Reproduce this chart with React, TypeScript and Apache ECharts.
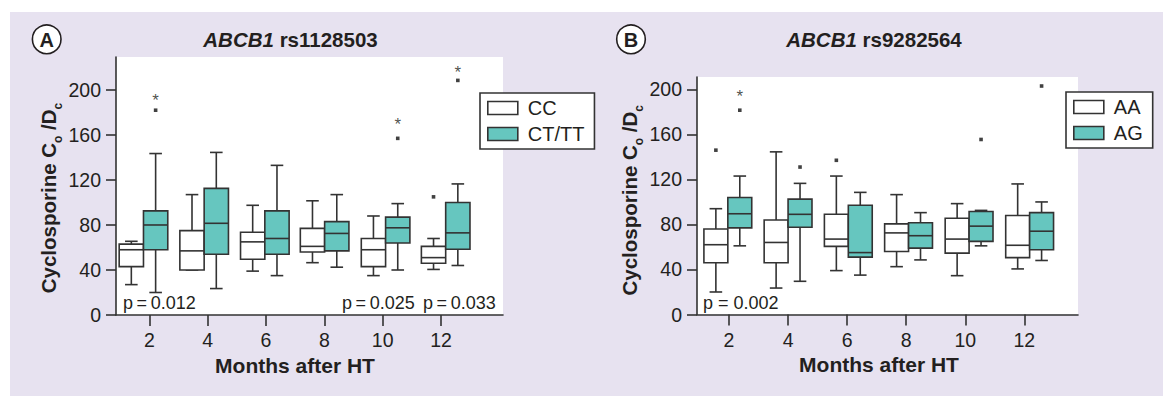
import React, { useEffect, useRef } from 'react';
import * as echarts from 'echarts';

// ---------- data ----------
const months = [2, 4, 6, 8, 10, 12];
const yTicks = [0, 40, 80, 120, 160, 200];

// Panel A: ABCB1 rs1128503  — boxes as [min, Q1, median, Q3, max]
const groupXA = [1.8, 3.88, 5.96, 8.01, 10.1, 12.16];
const ccA = [
  [27, 43, 58, 63, 65.5],
  [40, 40, 57, 75, 107],
  [39, 49.5, 65, 73.5, 97.5],
  [46.5, 56, 61, 77, 101.5],
  [35, 43, 58, 68, 88],
  [40.5, 46, 51, 61, 68],
];
const cttA = [
  [20, 58, 80, 92.5, 143.5],
  [23.5, 54, 81.5, 112.5, 144.5],
  [35, 54, 68, 92.5, 133],
  [42.5, 57, 72.5, 83, 107],
  [40, 64, 77.5, 87, 99],
  [44, 58.5, 73, 100, 116.5],
];
// outliers: [group index, value]
const ccAOut = [[5, 105]];
const cttAOut = [[0, 182], [4, 157], [5, 208.5]];
const cttAStars = [[0, 194], [4, 172.5], [5, 219]];
const pA = ['p\u2009=\u20090.012', 'p\u2009=\u20090.025', 'p\u2009=\u20090.033'];

// Panel B: ABCB1 rs9282564
const groupXB = [1.96, 4.0, 6.04, 8.08, 10.13, 12.18];
const aaB = [
  [20, 46, 62, 76, 94],
  [23.5, 46, 64, 84, 144.5],
  [39, 60.5, 67, 89, 123],
  [42.5, 56, 72.5, 80.5, 106.5],
  [34.5, 54.5, 67, 85.5, 98.5],
  [40.5, 50.5, 61.5, 88, 116],
];
const agB = [
  [61, 77, 89.5, 104, 123],
  [29.5, 77.5, 89, 102.5, 116.5],
  [35, 51, 55, 97, 108.5],
  [48.5, 59, 70, 81.5, 90.5],
  [61, 65, 78.5, 91.5, 92.5],
  [48, 57.5, 74, 90.5, 100],
];
const aaBOut = [[0, 146], [2, 137]];
const agBOut = [[0, 181.5], [1, 131], [4, 155.5], [5, 203]];
const agBStars = [[0, 197]];
const pB = ['p = 0.002'];

// ---------- styles ----------
const FONT = '"Liberation Sans", Arial, Helvetica, sans-serif';
const INK = '#231F20';
const LINE = '#333333';
const TEAL = '#66C6BF';

function boxSeries(name: string, data: number[][], groupX: number[], side: number, boxW: number, fill: string, gi: number) {
  return {
    type: 'custom',
    name,
    xAxisIndex: gi,
    yAxisIndex: gi,
    encode: { x: 0, y: [1, 2, 3, 4, 5] },
    itemStyle: { color: fill, borderColor: LINE },
    data: data.map((d, i) => [groupX[i] + side * boxW / 2, ...d]),
    renderItem: (params: any, api: any) => {
      const x = api.value(0);
      const lo = api.value(1), q1 = api.value(2), med = api.value(3), q3 = api.value(4), hi = api.value(5);
      const tl = api.coord([x - boxW / 2, q3]);
      const br = api.coord([x + boxW / 2, q1]);
      const cx = api.coord([x, lo])[0];
      const yLo = api.coord([x, lo])[1];
      const yHi = api.coord([x, hi])[1];
      const yMed = api.coord([x, med])[1];
      const cap = 6.3;
      const ls = { stroke: LINE, lineWidth: 1.6 };
      return {
        type: 'group',
        children: [
          { type: 'line', shape: { x1: cx, y1: yHi, x2: cx, y2: tl[1] }, style: ls },
          { type: 'line', shape: { x1: cx, y1: br[1], x2: cx, y2: yLo }, style: ls },
          { type: 'line', shape: { x1: cx - cap, y1: yHi, x2: cx + cap, y2: yHi }, style: ls },
          { type: 'line', shape: { x1: cx - cap, y1: yLo, x2: cx + cap, y2: yLo }, style: ls },
          { type: 'rect', shape: { x: tl[0], y: tl[1], width: br[0] - tl[0], height: br[1] - tl[1] }, style: { fill, stroke: LINE, lineWidth: 1.6 } },
          { type: 'line', shape: { x1: tl[0], y1: yMed, x2: br[0], y2: yMed }, style: ls },
        ],
      };
    },
  };
}

function outSeries(name: string, pts: number[][], groupX: number[], side: number, boxW: number, gi: number) {
  return {
    type: 'scatter',
    name,
    xAxisIndex: gi,
    yAxisIndex: gi,
    symbol: 'rect',
    symbolSize: 3.6,
    itemStyle: { color: '#111' },
    data: pts.map(([g, v]) => [groupX[g] + side * boxW / 2, v]),
  };
}

function starSeries(name: string, pts: number[][], groupX: number[], side: number, boxW: number, gi: number) {
  return {
    type: 'scatter',
    name,
    xAxisIndex: gi,
    yAxisIndex: gi,
    symbolSize: 0,
    label: { show: true, position: 'inside', formatter: '*', fontSize: 17, color: INK, fontFamily: FONT, offset: [0, 4] },
    data: pts.map(([g, v]) => [groupX[g] + side * boxW / 2, v]),
  };
}

function xAxisCfg(gi: number, min: number, max: number, padR: number) {
  return {
    type: 'value',
    gridIndex: gi,
    min,
    max,
    name: 'Months after HT',
    nameLocation: 'middle',
    nameGap: 39,
    nameTextStyle: { fontSize: 21, fontWeight: 'bold', color: INK, fontFamily: FONT, padding: [0, padR, 0, 0] },
    axisLine: { show: true, onZero: false, lineStyle: { color: LINE, width: 1.6 } },
    axisTick: { show: true, length: 11, lineStyle: { color: LINE, width: 1.6 }, customValues: months },
    axisLabel: { fontSize: 19.5, color: INK, fontFamily: FONT, margin: 15, customValues: months },
    splitLine: { show: false },
  };
}

function yAxisCfg(gi: number, max: number, padR: number) {
  return {
    type: 'value',
    gridIndex: gi,
    min: 0,
    max,
    name: '{b|Cyclosporine C}{s|o}{b| /D}{s|c}',
    nameLocation: 'middle',
    nameRotate: 90,
    nameGap: 57,
    nameTextStyle: {
      color: INK,
      fontFamily: FONT,
      padding: [0, padR, 0, 0],
      rich: {
        b: { fontSize: 20.5, fontWeight: 'bold', color: INK, fontFamily: FONT, lineHeight: 24, verticalAlign: 'bottom' },
        s: { fontSize: 12, fontWeight: 'bold', color: INK, fontFamily: FONT, lineHeight: 24, verticalAlign: 'bottom', padding: [0, 0, -5, 0] },
      },
    },
    axisLine: { show: true, onZero: false, lineStyle: { color: LINE, width: 1.6 } },
    axisTick: { show: true, length: 10, lineStyle: { color: LINE, width: 1.6 }, customValues: yTicks },
    axisLabel: { fontSize: 19.5, color: INK, fontFamily: FONT, margin: 15, customValues: yTicks },
    splitLine: { show: false },
  };
}

function legendCfg(names: string[], left: number, top: number, padR: number) {
  return {
    orient: 'vertical',
    left,
    top,
    icon: 'rect',
    itemWidth: 30,
    itemHeight: 13,
    itemGap: 6,
    padding: [5, padR, 5, 7],
    borderColor: LINE,
    borderWidth: 1.6,
    borderRadius: 0,
    backgroundColor: '#fff',
    selectedMode: false,
    textStyle: { fontSize: 20, color: INK, fontFamily: FONT, padding: [0, 0, 0, 5] },
    data: [
      { name: names[0], itemStyle: { color: '#fff', borderColor: LINE, borderWidth: 1.6 } },
      { name: names[1], itemStyle: { color: TEAL, borderColor: LINE, borderWidth: 1.6 } },
    ],
  };
}

function titleText(x: number, gene: string, rs: string) {
  return {
    type: 'text',
    x,
    y: 39,
    z: 10,
    style: {
      text: `{i|${gene}}{b| ${rs}}`,
      align: 'center',
      verticalAlign: 'middle',
      rich: {
        i: { fontSize: 20.5, fontWeight: 'bold', fontStyle: 'italic', fontFamily: FONT, fill: INK },
        b: { fontSize: 20.5, fontWeight: 'bold', fontFamily: FONT, fill: INK },
      },
    },
  };
}

function badge(cx: number, letter: string) {
  return [
    { type: 'circle', z: 10, shape: { cx, cy: 39.3, r: 14.3 }, style: { fill: '#fff', stroke: INK, lineWidth: 1.6 } },
    { type: 'text', z: 11, x: cx, y: 40, style: { text: letter, align: 'center', verticalAlign: 'middle', fontSize: 20, fontWeight: 'bold', fontFamily: FONT, fill: INK } },
  ];
}

function pText(x: number, y: number, t: string) {
  return { type: 'text', z: 10, x, y, style: { text: t, align: 'left', verticalAlign: 'middle', fontSize: 18, fontFamily: FONT, fill: INK } };
}

export default function App() {
  const ref = useRef<HTMLDivElement>(null);
  useEffect(() => {
    if (!ref.current) return;
    const chart = echarts.init(ref.current, null, { renderer: 'svg' });
    const bwA = 0.833;
    const bwB = 0.81;
    chart.setOption({
      animation: false,
      backgroundColor: 'transparent',
      grid: [
        { left: 116, top: 57, width: 387, height: 258, show: true, backgroundColor: '#fff', borderWidth: 0 },
        { left: 697, top: 77, width: 381, height: 237.5, show: true, backgroundColor: '#fff', borderWidth: 0 },
      ],
      xAxis: [xAxisCfg(0, 0.858, 14.125, 29), xAxisCfg(1, 0.916, 13.818, 17)],
      yAxis: [yAxisCfg(0, 229.3, 24), yAxisCfg(1, 211, 9)],
      legend: [legendCfg(['CC', 'CT/TT'], 480, 93, 10), legendCfg(['AA', 'AG'], 1066, 92, 10)],
      series: [
        boxSeries('CC', ccA, groupXA, -1, bwA, '#fff', 0),
        boxSeries('CT/TT', cttA, groupXA, 1, bwA, TEAL, 0),
        outSeries('CC outliers', ccAOut, groupXA, -1, bwA, 0),
        outSeries('CT/TT outliers', cttAOut, groupXA, 1, bwA, 0),
        starSeries('CT/TT extremes', cttAStars, groupXA, 1, bwA, 0),
        boxSeries('AA', aaB, groupXB, -1, bwB, '#fff', 1),
        boxSeries('AG', agB, groupXB, 1, bwB, TEAL, 1),
        outSeries('AA outliers', aaBOut, groupXB, -1, bwB, 1),
        outSeries('AG outliers', agBOut, groupXB, 1, bwB, 1),
        starSeries('AG extremes', agBStars, groupXB, 1, bwB, 1),
      ],
      graphic: [
        titleText(290.5, 'ABCB1', 'rs1128503'),
        titleText(874, 'ABCB1', 'rs9282564'),
        ...badge(46.7, 'A'),
        ...badge(631, 'B'),
        pText(123, 302.5, pA[0]),
        pText(342, 302.5, pA[1]),
        pText(423, 302.5, pA[2]),
        pText(703, 302.5, pB[0]),
      ],
    });
    return () => chart.dispose();
  }, []);
  return (
    <div style={{ position: 'fixed', left: 0, top: 0, width: 1163, height: 396, background: '#fff' }}>
      <div style={{ position: 'absolute', left: 10, top: 12, right: 0, bottom: 0, background: '#E7E2F0' }} />
      <div ref={ref} style={{ position: 'absolute', left: 0, top: 0, width: 1163, height: 396 }} />
    </div>
  );
}
